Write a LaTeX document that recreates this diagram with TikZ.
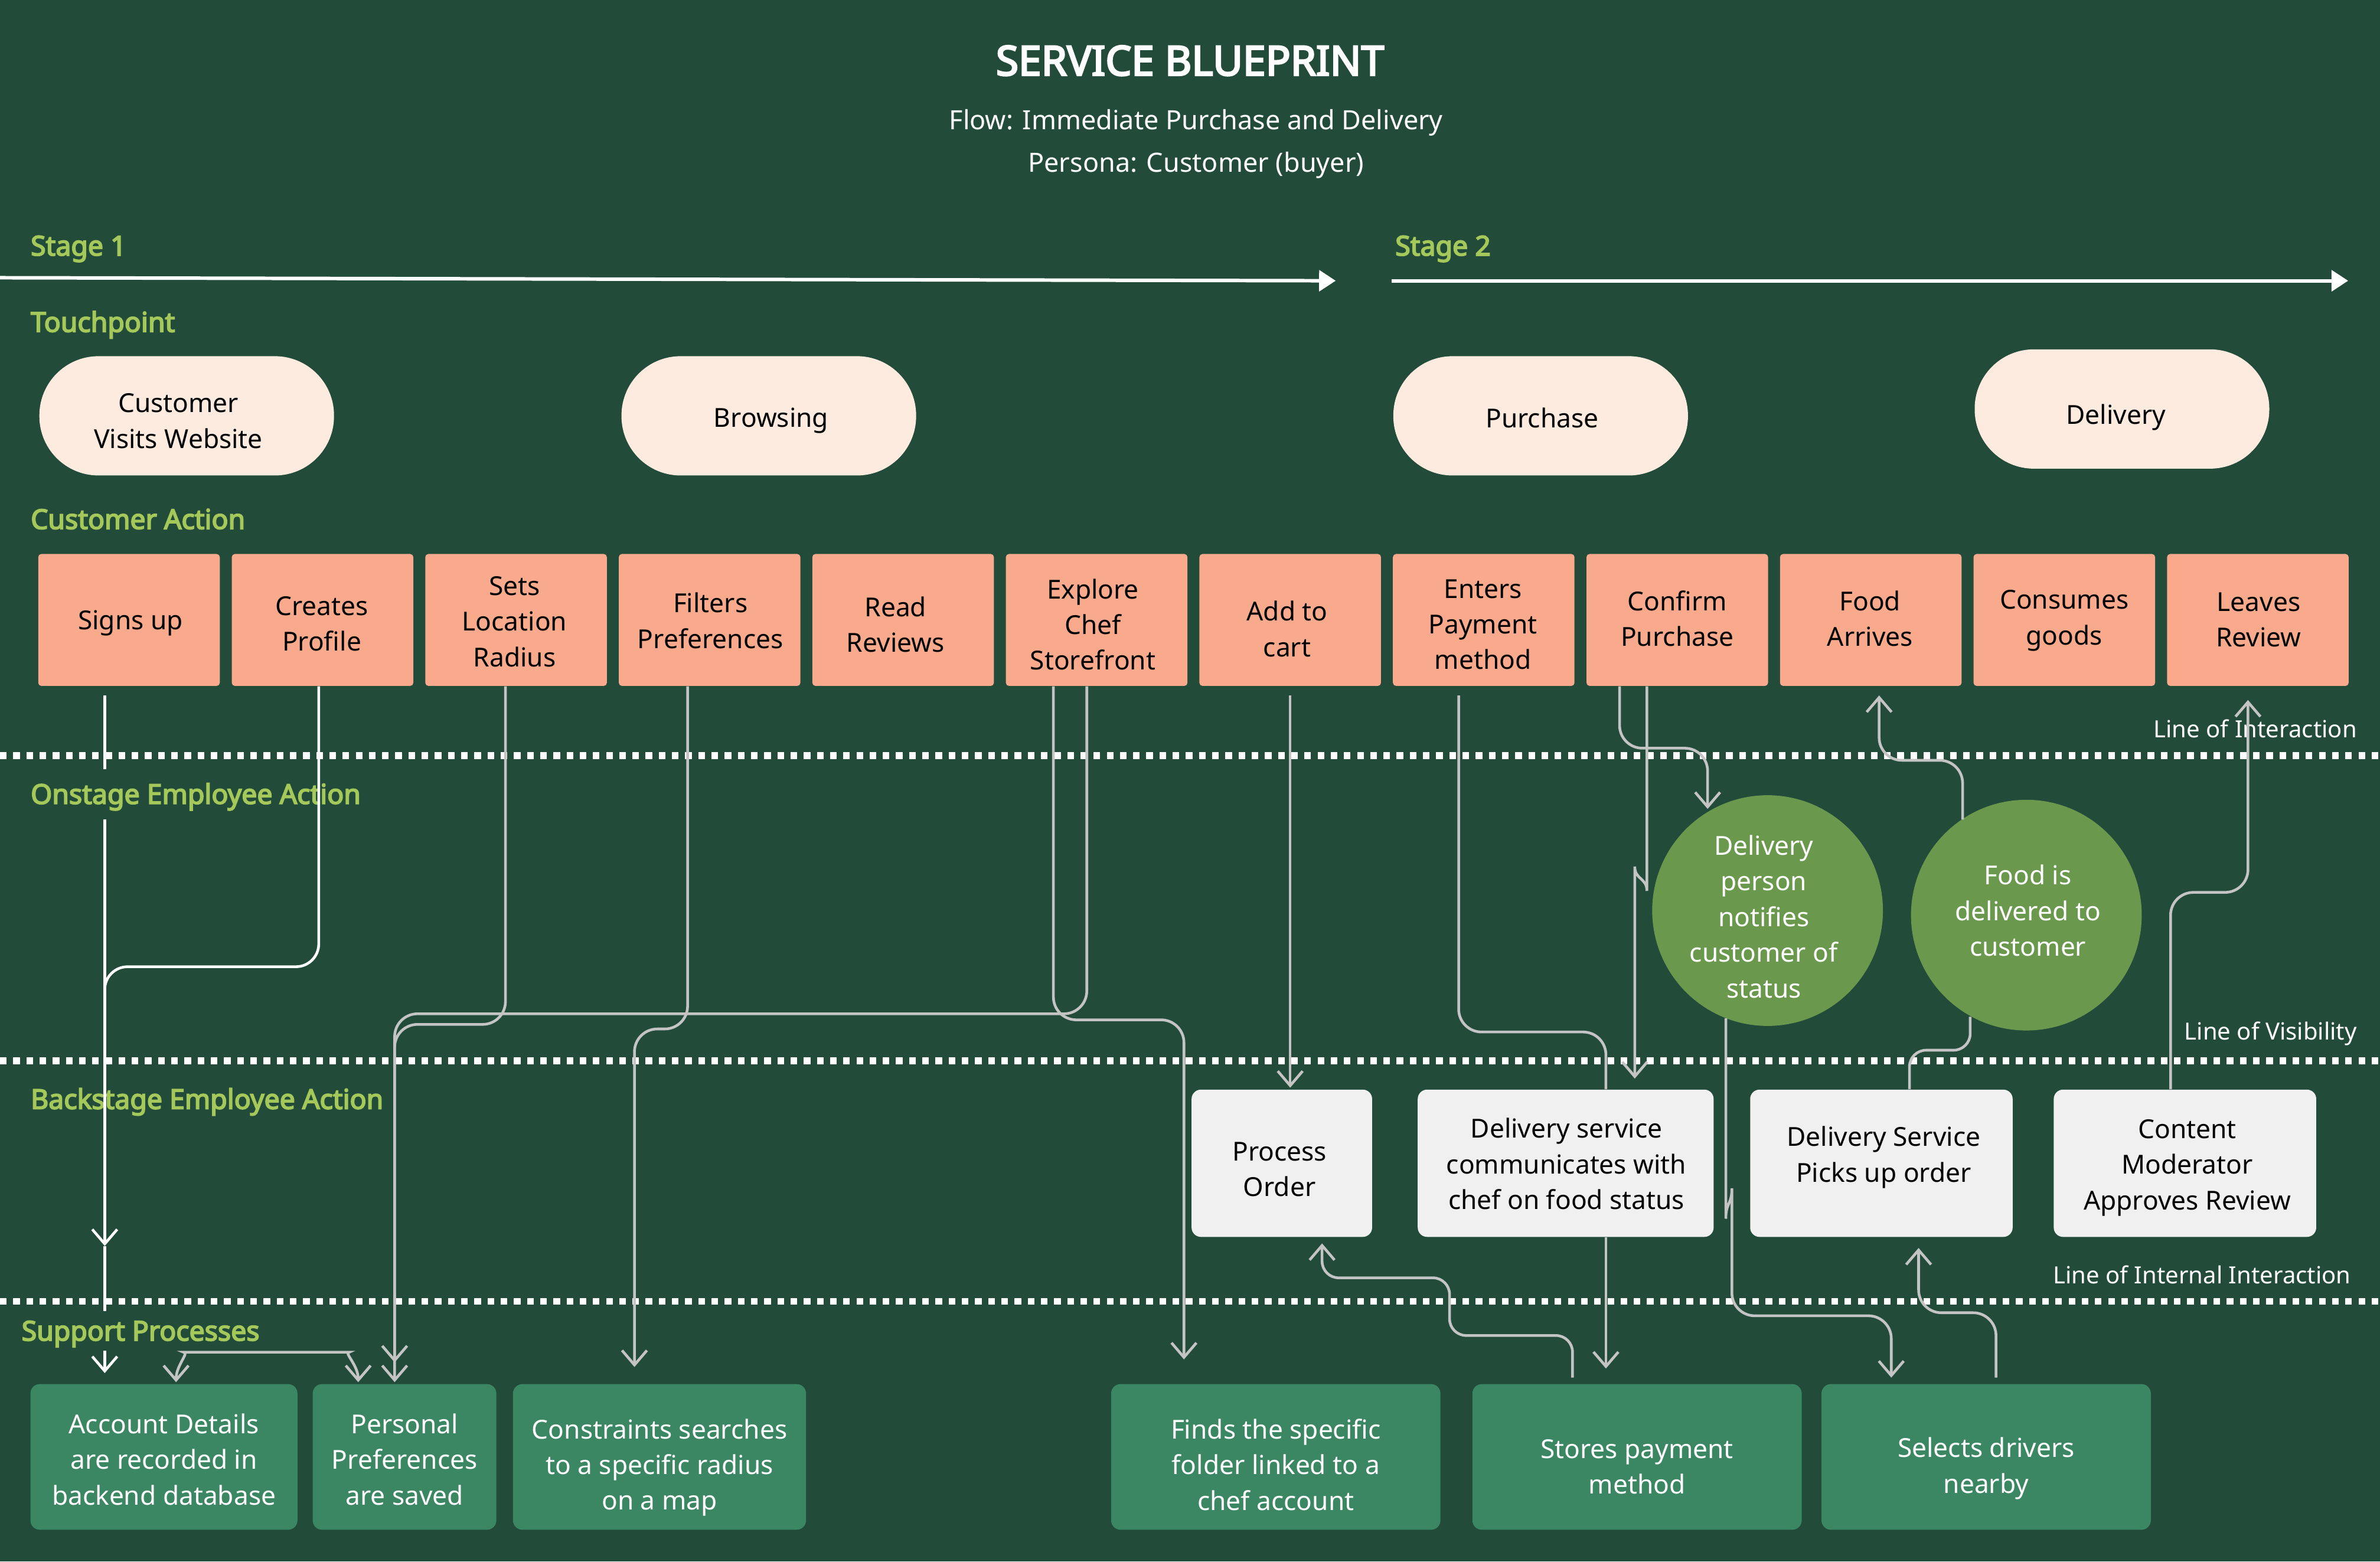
\documentclass[tikz,border=0pt]{standalone}
\usepackage{fontspec}
\setmainfont{Noto Sans}
\newfontfamily\boldfont{Noto Sans}[FakeBold=4]
\usetikzlibrary{arrows.meta,calc}
\definecolor{bgcol}{HTML}{224B3A}
\definecolor{lanecol}{HTML}{A5C85A}
\definecolor{salmoncol}{HTML}{F9AA8C}
\definecolor{creamcol}{HTML}{FDEBE0}
\definecolor{bubblecol}{HTML}{6A994E}
\definecolor{backcol}{HTML}{F0F0F0}
\definecolor{suppcol}{HTML}{3C8763}
\definecolor{conncol}{HTML}{C4C4C4}
\begin{document}
\begin{tikzpicture}[x=0.025708cm,y=-0.025708cm,
  lanelbl/.style={anchor=west, text=lanecol, font=\boldfont\fontsize{13.2}{15}\selectfont, inner sep=0pt},
  linelbl/.style={anchor=east, text=white, font=\fontsize{11.4}{13}\selectfont, inner sep=0pt},
  txt/.style={font=\fontsize{12.6}{17.2}\selectfont, align=center, inner sep=0pt},
  dtxt/.style={txt, text=black},
  ltxt/.style={txt, text=white},
  pill/.style={fill=creamcol, rounded corners=28.5pt, minimum width=142pt, minimum height=57.5pt, inner sep=0pt},
  act/.style={fill=salmoncol, rounded corners=1.5pt, minimum width=87.5pt, minimum height=63.6pt, inner sep=0pt},
  bubble/.style={circle, fill=bubblecol, minimum size=111.2pt, inner sep=0pt},
  backbox/.style={fill=backcol, rounded corners=4.5pt, minimum height=71pt, inner sep=0pt},
  suppbox/.style={fill=suppcol, rounded corners=4.5pt, minimum height=70.2pt, inner sep=0pt},
  conn/.style={draw=conncol, line width=1.3pt, rounded corners=11pt},
  wconn/.style={draw=white, line width=1.3pt, rounded corners=11pt},
  tip/.style={-{Straight Barb[length=7pt,width=12pt]}},
  bothtip/.style={{Straight Barb[length=7pt,width=12pt]}-{Straight Barb[length=7pt,width=12pt]}},
  dotline/.style={draw=white, line width=3.3pt, dash pattern=on 3.2pt off 3.15pt},
  stagearrow/.style={draw=white, line width=1.7pt, -{Triangle[length=8pt,width=10pt]}}
]
\useasboundingbox (0,0) rectangle (1568,1029);
\fill[bgcol] (0,0) rectangle (1568,1029);

% title
\node[text=white, font=\boldfont\fontsize{19.8}{23}\selectfont, inner sep=0pt] (title) at (784,40) {SERVICE BLUEPRINT};
\node[text=white, font=\fontsize{12.8}{15}\selectfont, inner sep=0pt] (flow) at (788,81) {Flow: Immediate Purchase and Delivery};
\node[text=white, font=\fontsize{12.8}{15}\selectfont, inner sep=0pt] (persona) at (788,109) {Persona: Customer (buyer)};

% lane labels
\node[lanelbl] (stage1) at (20,164) {Stage 1};
\node[lanelbl] (stage2) at (919,164) {Stage 2};
\node[lanelbl] (touch) at (20,214) {Touchpoint};
\node[lanelbl] (custact) at (20,342) {Customer Action};
\node[lanelbl] (onstage) at (20,525) {Onstage Employee Action};
\node[lanelbl] (backstage) at (20,726) {Backstage Employee Action};
\node[lanelbl] (support) at (14,879) {Support Processes};

% stage arrows
\coordinate (s1a) at (0,183);
\coordinate (s1b) at (880,185);
\coordinate (s2a) at (917,185);
\coordinate (s2b) at (1547,185);
\draw[stagearrow] (s1a) -- (s1b);
\draw[stagearrow] (s2a) -- (s2b);

% dotted lines
\coordinate (li1) at (0,498);   \coordinate (li2) at (1568,498);
\coordinate (lv1) at (0,699);   \coordinate (lv2) at (1568,699);
\coordinate (ln1) at (0,857.5); \coordinate (ln2) at (1568,857.5);
\draw[dotline] (li1) -- (li2);
\draw[dotline] (lv1) -- (lv2);
\draw[dotline] (ln1) -- (ln2);
\node[linelbl] (loi) at (1553,480) {Line of Interaction};
\node[linelbl] (lov) at (1553,681) {Line of Visibility};
\node[linelbl] (lii) at (1549,840) {Line of Internal Interaction};

% touchpoints
\node[pill] (tp1) at (123,274) {};
\node[pill] (tp2) at (506.5,274) {};
\node[pill] (tp3) at (1015,274) {};
\node[pill] (tp4) at (1398,269.5) {};
\node[dtxt] (tp1t) at (117.5,277.5) {Customer\\Visits Website};
\node[dtxt] (tp2t) at (508,277) {Browsing};
\node[dtxt] (tp3t) at (1016,275.5) {Purchase};
\node[dtxt] (tp4t) at (1394,275) {Delivery};

% customer actions
\node[act] (signs) at (85,408.5) {};
\node[act] (cp) at (212.5,408.5) {};
\node[act] (sets) at (340,408.5) {};
\node[act] (filt) at (467.5,408.5) {};
\node[act] (read) at (595,408.5) {};
\node[act] (explore) at (722.5,408.5) {};
\node[act] (cart) at (850,408.5) {};
\node[act] (pay) at (977.5,408.5) {};
\node[act] (conf) at (1105,408.5) {};
\node[act] (arr) at (1232.5,408.5) {};
\node[act] (cons) at (1360,408.5) {};
\node[act] (rev) at (1487.5,408.5) {};
\node[dtxt] (signst) at (86,410.5) {Signs up};
\node[dtxt] (cpt) at (212,411) {Creates\\Profile};
\node[dtxt] (setst) at (339,409.5) {Sets\\Location\\Radius};
\node[dtxt] (filtt) at (468,409) {Filters\\Preferences};
\node[dtxt] (readt) at (590,411.5) {Read\\Reviews};
\node[dtxt] (exploret) at (720,411.5) {Explore\\Chef\\Storefront};
\node[dtxt] (cartt) at (848,414.5) {Add to\\cart};
\node[dtxt] (payt) at (977,411.5) {Enters\\Payment\\method};
\node[dtxt] (conft) at (1105,407.5) {Confirm\\Purchase};
\node[dtxt] (arrt) at (1232,407.5) {Food\\Arrives};
\node[dtxt] (const) at (1360,409) {Consumes\\goods};
\node[dtxt] (revt) at (1488,408.5) {Leaves\\Review};

% onstage
\node[bubble] (dp) at (1164.5,600) {};
\node[bubble] (fd) at (1335,603) {};
\node[ltxt] (dpt) at (1162,604) {Delivery\\person\\notifies\\customer of\\status};
\node[ltxt] (fdt) at (1336,600) {Food is\\delivered to\\customer};

% backstage
\node[backbox, minimum width=87pt] (proc) at (844.5,766.5) {};
\node[backbox, minimum width=142.6pt] (dsc) at (1031.5,766.5) {};
\node[backbox, minimum width=126.5pt] (pick) at (1239.5,766.5) {};
\node[backbox, minimum width=126.5pt] (mod) at (1439.5,766.5) {};
\node[dtxt] (proct) at (843,770.5) {Process\\Order};
\node[dtxt] (dsct) at (1032,767) {Delivery service\\communicates with\\chef on food status};
\node[dtxt] (pickt) at (1241,762.5) {Delivery Service\\Picks up order};
\node[dtxt] (modt) at (1441,769.5) {Content\\Moderator\\Approves Review};

% support
\node[suppbox, minimum width=128.7pt] (acc) at (108,960) {};
\node[suppbox, minimum width=88.5pt] (pers) at (266.5,960) {};
\node[suppbox, minimum width=141.2pt] (cst) at (434.5,960) {};
\node[suppbox, minimum width=158.7pt] (finds) at (840.5,960) {};
\node[suppbox, minimum width=158.7pt] (stores) at (1078.5,960) {};
\node[suppbox, minimum width=158.7pt] (sel) at (1308.5,960) {};
\node[ltxt] (acct) at (108,961.7) {Account Details\\are recorded in\\backend database};
\node[ltxt] (perst) at (266.5,961.7) {Personal\\Preferences\\are saved};
\node[ltxt] (cstt) at (434.5,967) {Constraints searches\\to a specific radius\\on a map};
\node[ltxt] (findst) at (840.5,965) {Finds the specific\\folder linked to a\\chef account};
\node[ltxt] (storest) at (1078.5,966.5) {Stores payment\\method};
\node[ltxt] (selt) at (1308.5,967.5) {Selects drivers\\nearby};

% ---- connectors ----
% Signs up -> Account Details (white)
\coordinate (su1) at (69,507);
\coordinate (su2) at (69,540);
\coordinate (su3) at (69,821);
\coordinate (su4) at (69,864);
\coordinate (su5) at (69,890);
\draw[wconn] ($(signs.south)+(-16,6)$) -- (su1);
\draw[wconn,tip] (su2) -- (su3);
\draw[wconn] (su3) -- (su4);
\draw[wconn,tip] (su5) -- ($(acc.north)+(-39,-7)$);
% Creates Profile -> joins Signs up line
\coordinate (cpj) at (69,690);
\draw[wconn] ($(cp.south)+(-2.5,0)$) -- (210,637) -- (69,637) -- (cpj);

% Sets Location Radius -> Personal Preferences
\draw[conn,tip] ($(sets.south)+(-7,0)$) -- (333,675) -- (260,675) -- ($(pers.north)+(-6.5,-1)$);
% Explore (right line) -> Personal Preferences
\draw[conn,tip] ($(explore.south)+(-6.5,0)$) -- (716,668) -- (260,668) -- ($(pers.north)+(-6.5,-14)$);
% Filters -> Constraints
\draw[conn,tip] ($(filt.south)+(-14.5,0)$) -- (453,678) -- (418,678) -- ($(cst.north)+(-16.5,-11)$);
% Explore (left line) -> Finds
\draw[conn,tip] ($(explore.south)+(-28.5,0)$) -- (694,672) -- (780,672) -- ($(finds.north)+(-60.5,-16)$);
% Add to cart -> Process Order
\draw[conn,tip] ($(cart.south)+(0,6)$) -- ($(proc.north)+(5.5,-1)$);
% Enters Payment -> Delivery service communicates
\draw[conn] ($(pay.south)+(-16.5,6)$) -- (961,680) -- (1058,680) -- ($(dsc.north)+(26.5,0)$);
% Delivery service communicates -> Stores payment
\draw[conn,tip] ($(dsc.south)+(26.5,0)$) -- ($(stores.north)+(-20.5,-10)$);
% Confirm Purchase -> Delivery person
\draw[conn,tip] ($(conf.south)+(-38,0)$) -- (1067,493) -- (1125,493) -- ($(dp)+(-39.5,-67)$);
% Confirm Purchase -> Delivery service communicates
\draw[conn,tip] ($(conf.south)+(-20,0)$) -- (1085,572) to[out=-90,in=90] (1077,586) -- ($(dsc.north)+(45.5,-7)$);
% Delivery person -> Selects drivers
\draw[conn,tip] ($(dp)+(-27.5,71)$) -- (1137,788) to[out=-90,in=90] (1141,798) -- (1141,867) -- (1246,867) -- ($(sel.north)+(-62.5,-4)$);
% Food is delivered -> Food Arrives
\draw[conn,tip] ($(fd)+(-42,-63)$) -- (1293,501) -- (1238,501) -- ($(arr.south)+(5.5,6)$);
% Picks up -> Food is delivered
\draw[conn,rounded corners=8pt] ($(pick.north)+(18.5,0)$) -- (1258,692) -- (1298,692) -- ($(fd)+(-37,67)$);
% Content Moderator -> Leaves Review
\draw[conn,tip] ($(mod.north)+(-9.5,0)$) -- (1430,588) -- (1481,588) -- ($(rev.south)+(-6.5,9)$);
% Stores payment -> Process Order
\draw[conn,tip,rounded corners=8pt] ($(stores.north)+(-42.5,-4)$) -- (1036,880) -- (955,880) -- (955,842) -- (871,842) -- ($(proc.south)+(26.5,4)$);
% Selects drivers -> Picks up
\draw[conn,tip] ($(sel.north)+(6.5,-4)$) -- (1315,865) -- (1264,865) -- ($(pick.south)+(24.5,7)$);
% Account Details <-> Personal Preferences
\draw[conn,bothtip] ($(acc.north)+(8,-1)$) to[out=90,in=180] (136,891) -- (215,891) to[out=0,in=90] ($(pers.north)+(-30.5,-1)$);
\end{tikzpicture}
\end{document}
